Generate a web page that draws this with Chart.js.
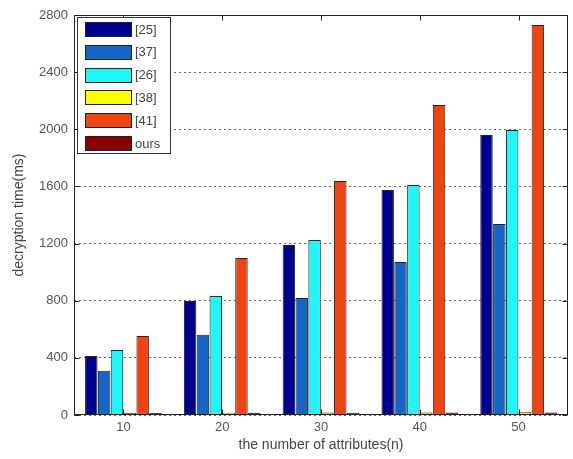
<!DOCTYPE html>
<html><head><meta charset="utf-8">
<script src="https://cdn.jsdelivr.net/npm/chart.js@4"></script>
<style>html,body{margin:0;padding:0;background:#fff}#wrap{width:573px;height:459px}</style>
</head><body><div id="wrap"><canvas id="c" width="573" height="459"></canvas></div>
<script>
const categories = ['10', '20', '30', '40', '50'];
const yTicks = [0, 400, 800, 1200, 1600, 2000, 2400, 2800];
const s25 = [413, 798, 1190, 1575, 1960];
const s37 = [310, 562, 819, 1071, 1337];
const s26 = [455, 833, 1225, 1610, 1995];
const s38 = [15, 16, 17, 18, 19];
const s41 = [553, 1099, 1638, 2170, 2730];
const sOurs = [14, 15, 16, 17, 18];
const seriesNames = ['[25]', '[37]', '[26]', '[38]', '[41]', 'ours'];
const seriesColors = ['#00008f', '#1565c4', '#22f5f5', '#ffff00', '#ee4412', '#8a0000'];

const FONT = "'Liberation Sans', Arial, sans-serif";
const seriesData = [s25, s37, s26, s38, s41, sOurs];

const boxPlugin = {
  id: 'boxPlugin',
  afterDraw(chart) {
    const ctx = chart.ctx, a = chart.chartArea;
    const xs = chart.scales.x, ys = chart.scales.y;
    ctx.save();
    ctx.strokeStyle = '#222';
    ctx.lineWidth = 1;
    const L = Math.round(a.left) + 0.5, R = Math.round(a.right) - 0.5;
    const T = Math.round(a.top) + 0.5, B = Math.round(a.bottom) - 0.5;
    ctx.strokeRect(L, T, R - L, B - T);
    ctx.beginPath();
    yTicks.forEach(v => {
      const y = Math.round(ys.getPixelForValue(v)) + 0.5;
      ctx.moveTo(L, y); ctx.lineTo(L + 5, y);
      ctx.moveTo(R, y); ctx.lineTo(R - 5, y);
    });
    categories.forEach((c, i) => {
      const x = Math.round(xs.getPixelForValue(i)) + 0.5;
      ctx.moveTo(x, B); ctx.lineTo(x, B - 5);
      ctx.moveTo(x, T); ctx.lineTo(x, T + 5);
    });
    ctx.stroke();
    // legend
    const lx = 77, ly = 17, lw = 93, lh = 136;
    ctx.fillStyle = '#fff';
    ctx.fillRect(lx, ly, lw, lh);
    ctx.strokeStyle = '#333';
    ctx.strokeRect(lx + 0.5, ly + 0.5, lw, lh);
    ctx.font = '13px ' + FONT;
    ctx.textBaseline = 'middle';
    chart.data.datasets.forEach((ds, i) => {
      const cy = 29 + i * 22.8;
      ctx.fillStyle = ds.backgroundColor;
      ctx.fillRect(85, Math.round(cy - 7), 47, 15);
      ctx.strokeStyle = '#222';
      ctx.strokeRect(85.5, Math.round(cy - 7) + 0.5, 46, 14);
      ctx.fillStyle = '#444';
      ctx.fillText(ds.label, 135, cy + 1);
    });
    ctx.restore();
  }
};

new Chart(document.getElementById('c'), {
  type: 'bar',
  data: {
    labels: categories,
    datasets: seriesNames.map((n, i) => ({
      label: n,
      data: seriesData[i],
      backgroundColor: seriesColors[i],
      borderColor: '#222',
      borderWidth: 1,
      categoryPercentage: 0.78,
      barPercentage: 0.97
    }))
  },
  options: {
    responsive: false,
    animation: false,
    layout: { padding: { top: 15, right: 5, left: 0, bottom: 0 } },
    plugins: { legend: { display: false }, tooltip: { enabled: false } },
    scales: {
      x: {
        offset: true,
        grid: { display: false, drawTicks: false },
        border: { display: false },
        ticks: { color: '#555', font: { family: FONT, size: 13 }, padding: 5 },
        title: { display: true, text: 'the number of attributes(n)', color: '#444',
                 font: { family: FONT, size: 14 }, padding: { top: 5, bottom: 5 } },
        afterFit(s) { s.height = 44; }
      },
      y: {
        min: 0, max: 2800,
        afterBuildTicks(s) { s.ticks = yTicks.map(v => ({ value: v })); },
        grid: { color: '#666', drawTicks: false },
        border: { display: false, dash: [2, 3] },
        ticks: { color: '#555', font: { family: FONT, size: 13 }, padding: 6,
                 callback: v => String(v) },
        title: { display: true, text: 'decryption time(ms)', color: '#444',
                 font: { family: FONT, size: 14 }, padding: { top: 11, bottom: 11 } },
        afterFit(s) { s.width = 74; }
      }
    }
  },
  plugins: [boxPlugin]
});
</script></body></html>
